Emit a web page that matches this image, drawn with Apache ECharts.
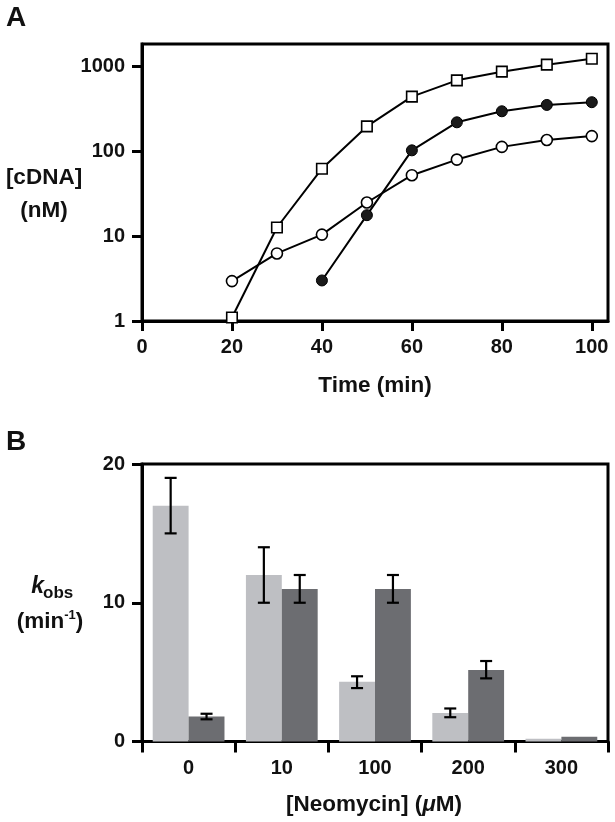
<!DOCTYPE html>
<html>
<head>
<meta charset="utf-8">
<script src="https://cdn.jsdelivr.net/npm/echarts@6/dist/echarts.min.js"></script>
<style>
html,body{margin:0;padding:0;background:#fff;}
#c{width:615px;height:822px;}
</style>
</head>
<body>
<div id="c"></div>
<script>
// ---- Panel A data ----
const timeTicks = [0, 20, 40, 60, 80, 100];
const concTicks = [1, 10, 100, 1000];
const timesAll = [20, 30, 40, 50, 60, 70, 80, 90, 100];
const squareVals = [1.1, 12.6, 62, 195, 437, 680, 860, 1040, 1220];
const timesFilled = [40, 50, 60, 70, 80, 90, 100];
const filledVals = [3.0, 17.6, 102, 218, 294, 349, 376];
const openVals = [2.95, 6.24, 10.4, 24.8, 52, 79.4, 112, 135, 150];

// ---- Panel B data ----
const neoCats = ['0', '10', '100', '200', '300'];
const kTicks = [0, 10, 20];
const lightVals = [17, 12, 4.3, 2.05, 0.2];
const lightLow = [15, 10, 3.85, 1.75];
const lightHigh = [19, 14, 4.7, 2.38];
const darkVals = [1.8, 11, 11, 5.15, 0.35];
const darkLow = [1.6, 10, 10, 4.55];
const darkHigh = [2.0, 12, 12, 5.8];

const FONT = '"Liberation Sans", Arial, Helvetica, sans-serif';
const CAT_GAP = 0.23;

const chart = echarts.init(document.getElementById('c'), null, {renderer: 'canvas'});

function pairs(xs, ys) { return xs.map((x, i) => [x, ys[i]]); }
function errData(low, high) { return low.map((l, i) => [i, l, high[i]]); }

function errRender(sign) {
  return function (params, api) {
    const cat = api.value(0);
    const catW = api.size([1, 0])[0];
    const bw = catW * (1 - CAT_GAP) / 2;
    const cx = api.coord([cat, 0])[0] + sign * bw / 2;
    const yl = api.coord([cat, api.value(1)])[1];
    const yh = api.coord([cat, api.value(2)])[1];
    const cap = 6;
    const st = {stroke: '#000', lineWidth: 2.2};
    return {
      type: 'group',
      children: [
        {type: 'line', shape: {x1: cx, y1: yl, x2: cx, y2: yh}, style: st},
        {type: 'line', shape: {x1: cx - cap, y1: yh, x2: cx + cap, y2: yh}, style: st},
        {type: 'line', shape: {x1: cx - cap, y1: yl, x2: cx + cap, y2: yl}, style: st}
      ]
    };
  };
}

const axisLine = {show: true, onZero: false, lineStyle: {color: '#000', width: 3}};
const labelStyle = {color: '#111', fontFamily: FONT, fontWeight: 'bold', fontSize: 20};
const gridBorder = {show: true, borderColor: '#000', borderWidth: 3, backgroundColor: 'transparent'};
const TITLE = 'bold 22.5px ' + FONT;

const option = {
  animation: false,
  backgroundColor: '#fff',
  grid: [
    Object.assign({left: 142, top: 44, width: 466, height: 277}, gridBorder),
    Object.assign({left: 142, top: 464, width: 466, height: 277.5}, gridBorder)
  ],
  xAxis: [
    {
      gridIndex: 0, type: 'value', min: 0, max: 103.6, interval: 20,
      axisLine: axisLine,
      axisTick: {show: true, inside: false, length: 10, lineStyle: {color: '#000', width: 3}, customValues: timeTicks},
      axisLabel: Object.assign({margin: 16, customValues: timeTicks}, labelStyle),
      splitLine: {show: false}
    },
    {
      gridIndex: 1, type: 'category', data: neoCats, boundaryGap: true,
      axisLine: axisLine,
      axisTick: {show: true, inside: false, length: 11, alignWithLabel: false, lineStyle: {color: '#000', width: 3}},
      axisLabel: Object.assign({margin: 17}, labelStyle),
      splitLine: {show: false}
    }
  ],
  yAxis: [
    {
      gridIndex: 0, type: 'log', logBase: 10, min: 1, max: 1820,
      axisLine: axisLine,
      axisTick: {show: true, inside: false, length: 10, lineStyle: {color: '#000', width: 3}, customValues: concTicks},
      axisLabel: Object.assign({margin: 17, customValues: concTicks,
        formatter: v => String(Math.round(v))}, labelStyle),
      splitLine: {show: false},
      minorTick: {show: false}
    },
    {
      gridIndex: 1, type: 'value', min: 0, max: 20, interval: 10,
      axisLine: axisLine,
      axisTick: {show: true, inside: false, length: 10, lineStyle: {color: '#000', width: 3}},
      axisLabel: Object.assign({margin: 17}, labelStyle),
      splitLine: {show: false}
    }
  ],
  series: [
    {
      type: 'line', xAxisIndex: 0, yAxisIndex: 0, data: pairs(timesAll, openVals),
      symbol: 'circle', symbolSize: 11, z: 3,
      lineStyle: {color: '#000', width: 2},
      itemStyle: {color: '#fff', borderColor: '#000', borderWidth: 1.6}
    },
    {
      type: 'line', xAxisIndex: 0, yAxisIndex: 0, data: pairs(timesFilled, filledVals),
      symbol: 'circle', symbolSize: 11, z: 3,
      lineStyle: {color: '#000', width: 2},
      itemStyle: {color: '#1a1a1a', borderColor: '#000', borderWidth: 1}
    },
    {
      type: 'line', xAxisIndex: 0, yAxisIndex: 0, data: pairs(timesAll, squareVals),
      symbol: 'rect', symbolSize: 10.5, z: 3,
      lineStyle: {color: '#000', width: 2},
      itemStyle: {color: '#fff', borderColor: '#000', borderWidth: 1.6}
    },
    {
      type: 'bar', xAxisIndex: 1, yAxisIndex: 1, data: lightVals,
      barGap: '0%', barCategoryGap: (CAT_GAP * 100) + '%',
      itemStyle: {color: '#bebfc3'}
    },
    {
      type: 'bar', xAxisIndex: 1, yAxisIndex: 1, data: darkVals,
      barGap: '0%', barCategoryGap: (CAT_GAP * 100) + '%',
      itemStyle: {color: '#6c6d71'}
    },
    {
      type: 'custom', xAxisIndex: 1, yAxisIndex: 1, z: 5,
      data: errData(lightLow, lightHigh), encode: {x: 0, y: [1, 2]},
      renderItem: errRender(-1)
    },
    {
      type: 'custom', xAxisIndex: 1, yAxisIndex: 1, z: 5,
      data: errData(darkLow, darkHigh), encode: {x: 0, y: [1, 2]},
      renderItem: errRender(1)
    }
  ],
  graphic: [
    {type: 'text', left: 6, top: 4, style: {text: 'A', font: 'bold 28px ' + FONT, fill: '#111'}},
    {type: 'text', left: 6, top: 428, style: {text: 'B', font: 'bold 28px ' + FONT, fill: '#111'}},
    {type: 'text', x: 44, y: 178, style: {text: '[cDNA]', font: TITLE, fill: '#111', align: 'center', verticalAlign: 'middle'}},
    {type: 'text', x: 44, y: 211, style: {text: '(nM)', font: TITLE, fill: '#111', align: 'center', verticalAlign: 'middle'}},
    {type: 'text', x: 375, y: 386, style: {text: 'Time (min)', font: TITLE, fill: '#111', align: 'center', verticalAlign: 'middle'}},
    {type: 'text', x: 44, y: 587, style: {text: 'k', font: 'italic bold 23px ' + FONT, fill: '#111', align: 'right', verticalAlign: 'middle'}},
    {type: 'text', x: 43, y: 593, style: {text: 'obs', font: 'bold 17px ' + FONT, fill: '#111', align: 'left', verticalAlign: 'middle'}},
    {type: 'text', x: 50, y: 621, style: {
      text: '{a|(min}{s|-1}{a|)}', align: 'center', verticalAlign: 'middle',
      rich: {
        a: {font: TITLE, fill: '#111', color: '#111', verticalAlign: 'bottom', lineHeight: 24},
        s: {font: 'bold 13px ' + FONT, fill: '#111', color: '#111', verticalAlign: 'top', lineHeight: 24, padding: [0, 0, 9, 0]}
      }
    }},
    {type: 'text', x: 374, y: 805, style: {
      text: '{a|[Neomycin] (}{i|\u03bc}{a|M)}', align: 'center', verticalAlign: 'middle',
      rich: {
        a: {font: TITLE, fill: '#111', color: '#111'},
        i: {font: 'italic bold 22.5px ' + FONT, fill: '#111', color: '#111'}
      }
    }}
  ]
};

chart.setOption(option);
</script>
</body>
</html>
